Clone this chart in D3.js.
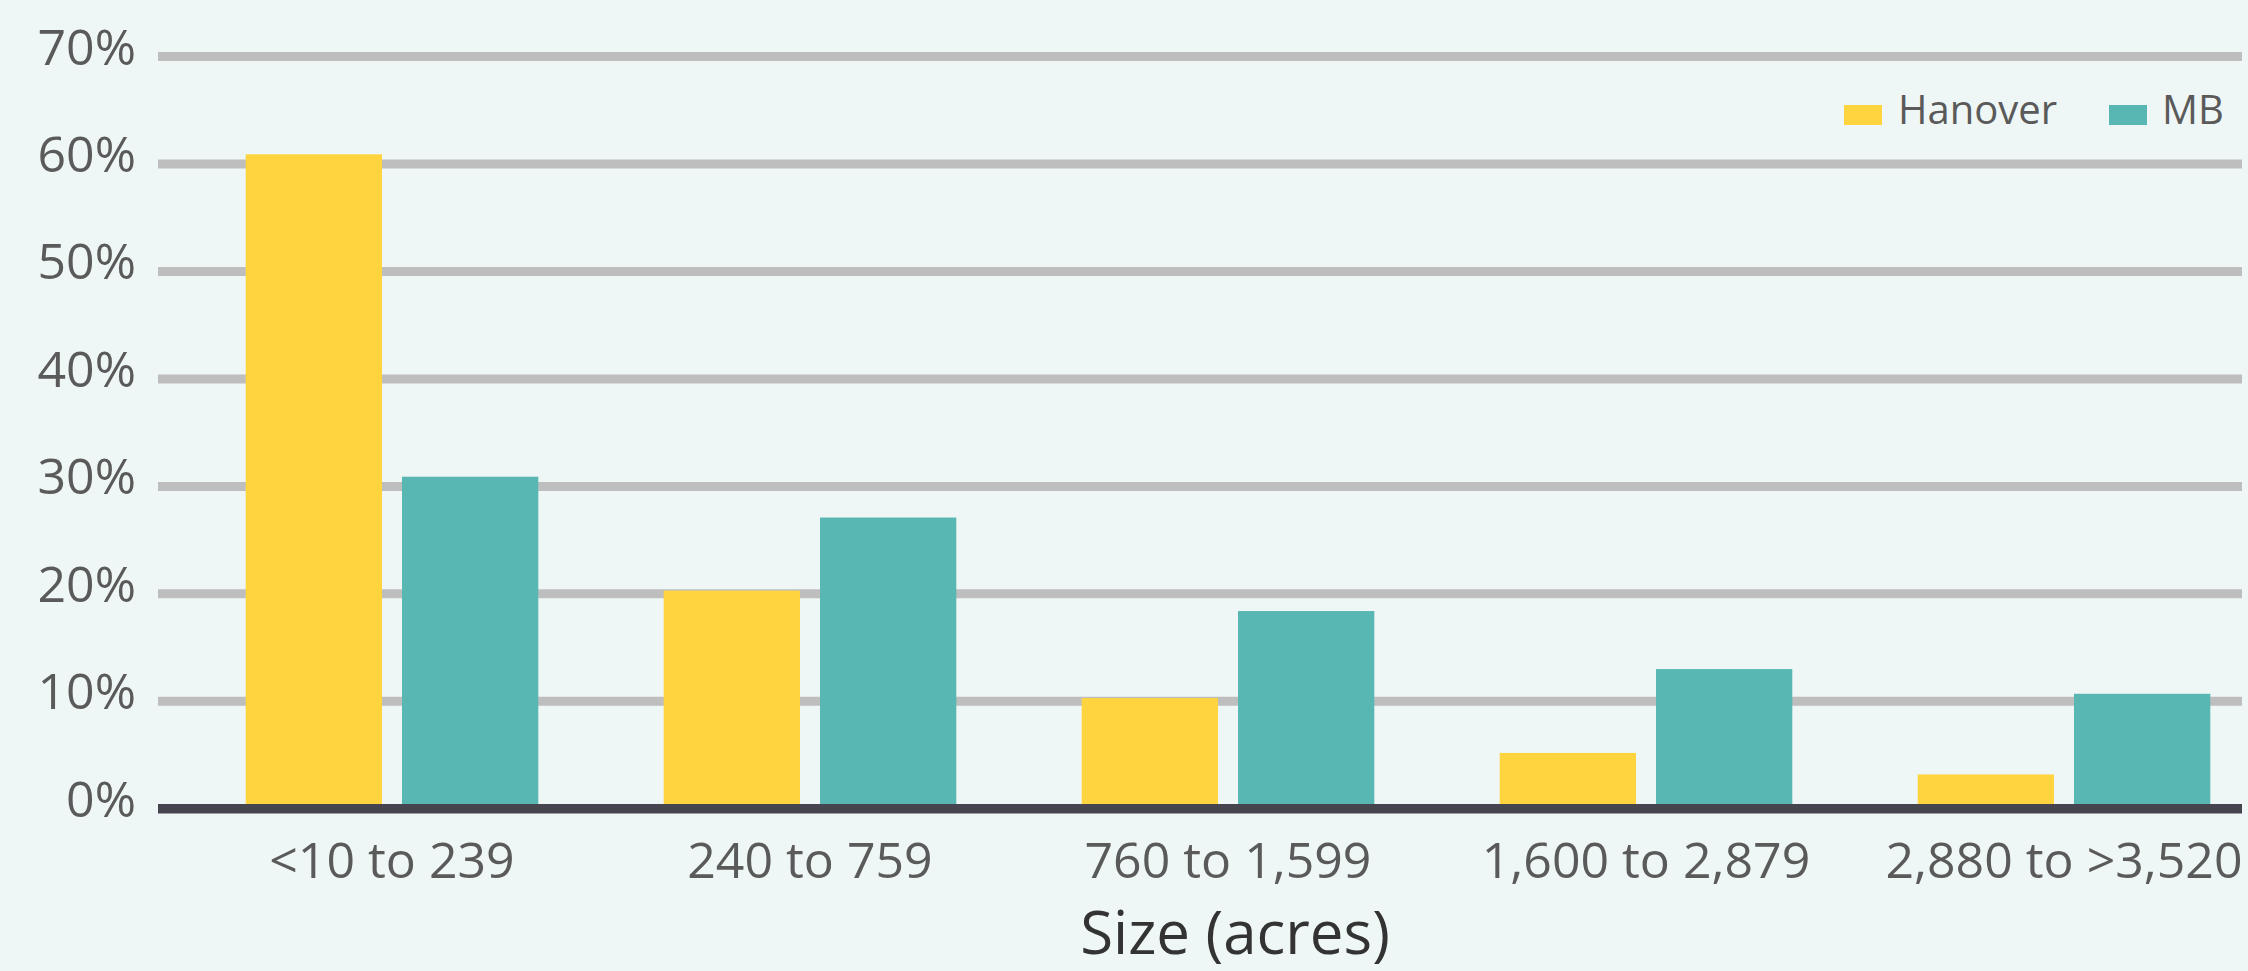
<!DOCTYPE html>
<html>
<head>
<meta charset="utf-8">
<script src="https://cdn.jsdelivr.net/npm/d3@7/dist/d3.min.js"></script>
<style>
  html, body { margin: 0; padding: 0; background: #eef7f5; }
  svg { display: block; font-family: "Open Sans", "Noto Sans", sans-serif; }
</style>
</head>
<body>
<svg id="chart" width="2248" height="971"></svg>
<script>
// Farm size distribution, share of farms by size class
const categories = ["<10 to 239", "240 to 759", "760 to 1,599", "1,600 to 2,879", "2,880 to >3,520"];
const seriesNames = ["Hanover", "MB"];
const hanover = [60.9, 20.3, 10.3, 5.2, 3.2];
const mb = [30.9, 27.1, 18.4, 13.0, 10.7];
const yTicks = [0, 10, 20, 30, 40, 50, 60, 70];
const xTitle = "Size (acres)";

const colors = { Hanover: "#ffd43f", MB: "#58b7b3" };
const values = { Hanover: hanover, MB: mb };

const svg = d3.select("#chart");
svg.append("rect").attr("width", 2248).attr("height", 971).attr("fill", "#eef7f5");

const gridLeft = 158, gridRight = 2242;

const y = d3.scaleLinear().domain([0, 70]).range([808.8, 56.5]);
const x0 = d3.scaleBand().domain(categories).range([183, 2273])
  .paddingInner(0.3).paddingOuter(0.15);
const x1 = d3.scaleBand().domain(seriesNames).range([0, x0.bandwidth()])
  .paddingInner(0.128);

// horizontal gridlines
svg.append("g").selectAll("line")
  .data(yTicks.filter(t => t > 0))
  .join("line")
  .attr("x1", gridLeft).attr("x2", gridRight)
  .attr("y1", d => y(d)).attr("y2", d => y(d))
  .attr("stroke", "#bebebe").attr("stroke-width", 9);

// y tick labels
svg.append("g").selectAll("text")
  .data(yTicks)
  .join("text")
  .attr("x", 136)
  .attr("y", d => y(d) + 8)
  .attr("text-anchor", "end")
  .attr("font-size", 50)
  .attr("fill", "#5a5a5a")
  .text(d => d + "%");

// bars
const groups = svg.append("g").selectAll("g")
  .data(categories)
  .join("g")
  .attr("transform", d => `translate(${x0(d)},0)`);

groups.selectAll("rect")
  .data((d, i) => seriesNames.map(s => ({ s, v: values[s][i] })))
  .join("rect")
  .attr("x", d => x1(d.s))
  .attr("width", x1.bandwidth())
  .attr("y", d => y(d.v))
  .attr("height", d => y(0) - y(d.v))
  .attr("fill", d => colors[d.s]);

// baseline
svg.append("line")
  .attr("x1", gridLeft).attr("x2", gridRight)
  .attr("y1", y(0)).attr("y2", y(0))
  .attr("stroke", "#46444f").attr("stroke-width", 9.5);

// x category labels
svg.append("g").selectAll("text")
  .data(categories)
  .join("text")
  .attr("x", d => x0(d) + x0.bandwidth() / 2)
  .attr("y", 878)
  .attr("text-anchor", "middle")
  .attr("font-size", 50)
  .attr("fill", "#5a5a5a")
  .text(d => d);

// axis title
svg.append("text")
  .attr("x", 1235).attr("y", 954)
  .attr("text-anchor", "middle")
  .attr("font-size", 60)
  .attr("fill", "#333333")
  .text(xTitle);

// legend
const legendPos = [{ sx: 1844, tx: 1898 }, { sx: 2109, tx: 2162 }];
const legend = svg.append("g").selectAll("g")
  .data(seriesNames)
  .join("g");
legend.append("rect")
  .attr("x", (d, i) => legendPos[i].sx)
  .attr("y", 105)
  .attr("width", 38).attr("height", 20)
  .attr("fill", d => colors[d]);
legend.append("text")
  .attr("x", (d, i) => legendPos[i].tx)
  .attr("y", 124)
  .attr("font-size", 40)
  .attr("fill", "#5a5a5a")
  .text(d => d);
</script>
</body>
</html>
